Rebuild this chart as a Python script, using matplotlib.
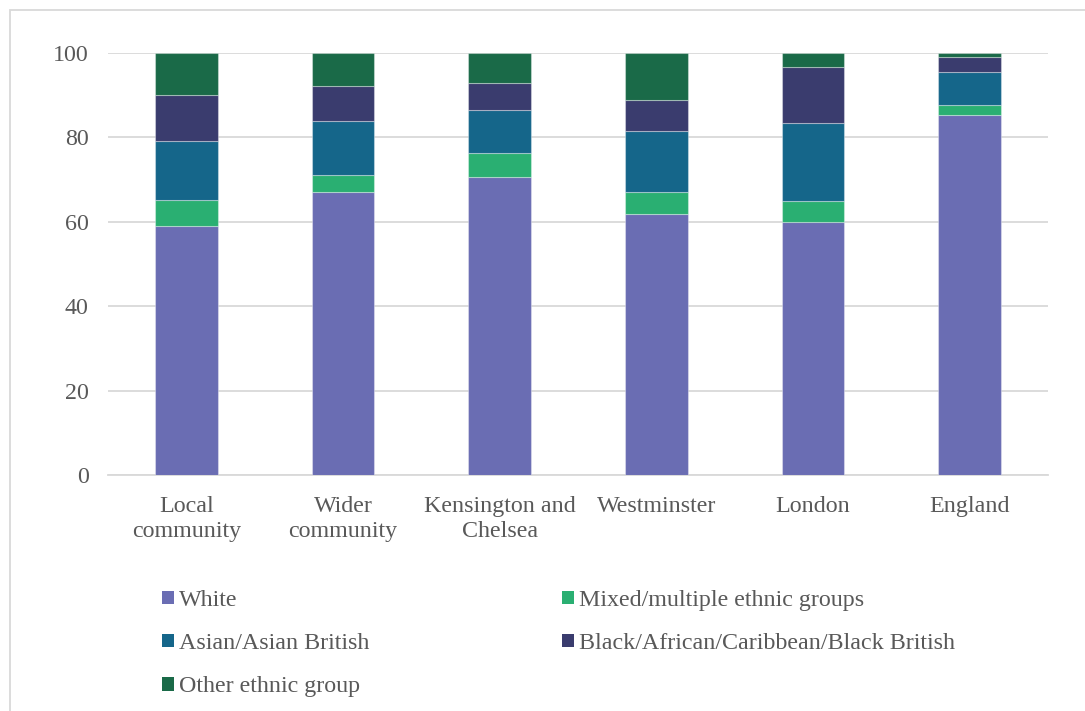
"""Stacked bar chart of ethnic group shares by area."""

import matplotlib
matplotlib.use("Agg")
import matplotlib.pyplot as plt
from matplotlib.patches import Rectangle, Patch

# data (percent)
areas = ["Local\ncommunity", "Wider\ncommunity", "Kensington and\nChelsea",
         "Westminster", "London", "England"]
white = [59.1, 67.0, 70.6, 61.8, 59.9, 85.4]
mixed = [6.0, 4.1, 5.7, 5.2, 5.0, 2.3]
asian = [14.0, 12.9, 10.1, 14.5, 18.4, 7.8]
black = [10.9, 8.1, 6.4, 7.4, 13.3, 3.5]
other = [10.0, 7.9, 7.2, 11.1, 3.4, 1.0]

groups = ["White", "Mixed/multiple ethnic groups", "Asian/Asian British",
          "Black/African/Caribbean/Black British", "Other ethnic group"]
colors = ["#6a6db3", "#2aaf72", "#15668a", "#3a3c6e", "#1a6a48"]
series = [white, mixed, asian, black, other]

text_col = "#595959"
fs = 17.3
plt.rcParams["font.family"] = ["Liberation Serif", "DejaVu Serif"]

fig = plt.figure(figsize=(10.85, 7.11), dpi=100)
W, H = 1085, 711
ax = fig.add_axes([108 / W, 1 - 475 / H, (1048 - 108) / W, (475 - 53) / H])

x = list(range(len(areas)))
bottom = [0.0] * len(areas)
for vals, col, name in zip(series, colors, groups):
    ax.bar(x, vals, 0.4, bottom=bottom, color=col, label=name,
           edgecolor=(1, 1, 1, 0.35), linewidth=0.8, zorder=3)
    bottom = [b + v for b, v in zip(bottom, vals)]

ax.set_xlim(-0.5, len(areas) - 0.5)
ax.set_ylim(0, 100)
ax.set_yticks([0, 20, 40, 60, 80, 100])
ax.set_xticks(x)
ax.set_xticklabels(areas, linespacing=1.23)
ax.yaxis.grid(True, color="#d9d9d9", linewidth=1.3, zorder=0)
ax.set_axisbelow(True)
for s in ["top", "right", "left"]:
    ax.spines[s].set_visible(False)
ax.spines["bottom"].set_color("#d9d9d9")
ax.spines["bottom"].set_linewidth(1.3)
ax.tick_params(axis="both", length=0, labelsize=fs, labelcolor=text_col)
ax.tick_params(axis="x", pad=15)
ax.tick_params(axis="y", pad=14)

# legend, row-major order like the reference
handles = [Patch(facecolor=c) for c in colors]
order = [0, 2, 4, 1, 3]
fig.legend([handles[i] for i in order], [groups[i] for i in order],
           ncol=2, loc="upper left", bbox_to_anchor=(162 / W, 1 - 590 / H),
           frameon=False, fontsize=fs, labelcolor=text_col,
           borderpad=0, borderaxespad=0,
           handlelength=0.5, handleheight=0.5, handletextpad=0.22,
           columnspacing=8.0, labelspacing=0.92)

# outer chart border (cropped at right and bottom)
fig.patches.append(Rectangle((10 / W, -0.1), 1.2, 1.1 - 10 / H,
                             transform=fig.transFigure, fill=False,
                             edgecolor="#d9d9d9", linewidth=1.3))

fig.savefig("out.png", dpi=100)
